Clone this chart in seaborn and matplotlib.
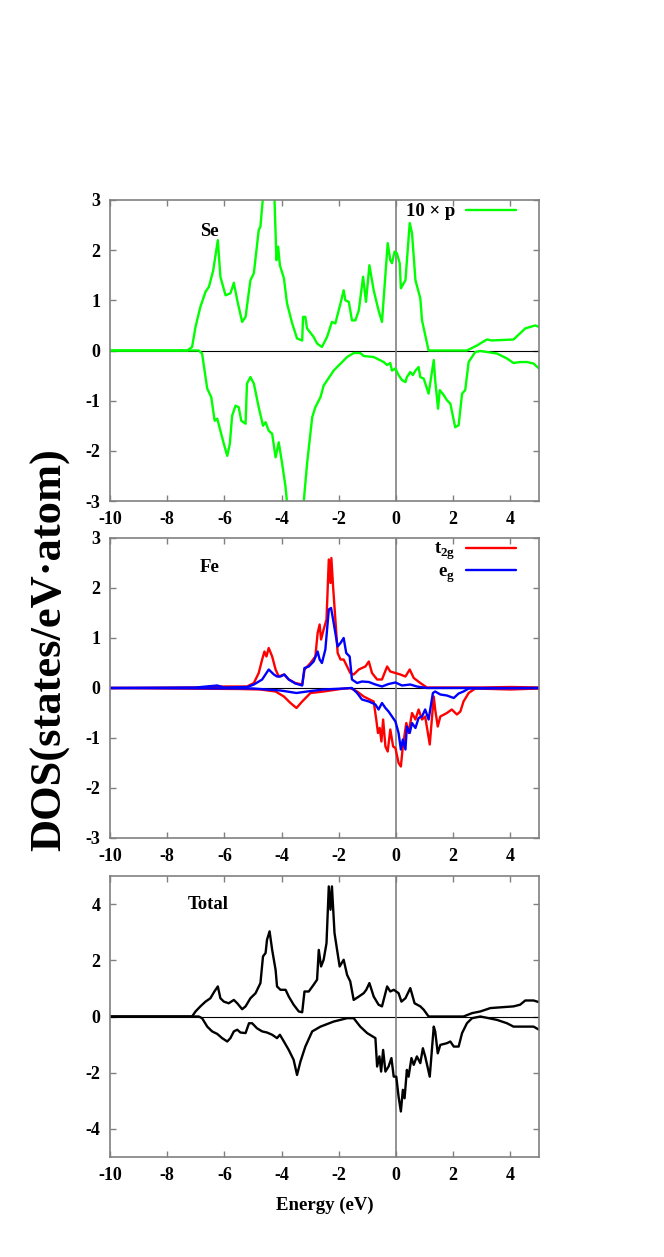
import matplotlib
matplotlib.use("Agg")

import matplotlib.pyplot as plt
import seaborn as sns

# ---- Se p (x10), spin up / spin down ----
se_up_e = [-10, -7.3, -7.13, -7.01, -6.84, -6.66, -6.54, -6.39, -6.23, -6.14, -5.96, -5.79, -5.73,
           -5.67, -5.55, -5.38, -5.26, -5.09, -4.97, -4.8, -4.74, -4.6, -4.45, -4.27, -4.18, -4.12,
           -4.06, -3.92, -3.81, -3.63, -3.46, -3.28, -3.25, -3.17, -3.11, -2.88, -2.76, -2.59, -2.41,
           -2.24, -2.12, -1.94, -1.83, -1.77, -1.65, -1.54, -1.42, -1.3, -1.15, -1.05, -0.93, -0.78,
           -0.61, -0.49, -0.29, -0.2, -0.14, -0.05, 0.03, 0.13, 0.17, 0.33, 0.48, 0.56, 0.68, 0.85,
           0.91, 1.14, 2.48, 2.83, 3.18, 3.35, 4.11, 4.52, 4.87, 5.0]
se_up = [0, 0, 0.07, 0.47, 0.87, 1.17, 1.27, 1.6, 2.2, 1.47, 1.1, 1.14, 1.24,
         1.35, 1.0, 0.57, 0.67, 1.4, 1.54, 2.4, 2.47, 3.4, 4.0, 3.4, 1.8, 2.07,
         1.7, 1.44, 0.94, 0.54, 0.24, 0.2, 0.67, 0.67, 0.44, 0.27, 0.14, 0.07, 0.27,
         0.57, 0.54, 0.94, 1.2, 1.0, 0.97, 0.6, 0.6, 0.8, 1.47, 0.97, 1.7, 1.2,
         0.8, 0.57, 2.14, 1.8, 1.74, 1.97, 1.94, 1.74, 1.24, 1.4, 2.54, 2.34, 1.4, 1.04,
         0.6, 0, 0, 0.1, 0.22, 0.2, 0.22, 0.44, 0.5, 0.47]

se_dn_e = [-10, -6.9, -6.78, -6.66, -6.6, -6.46, -6.34, -6.25, -6.14, -6.02, -5.9, -5.81, -5.73,
           -5.61, -5.5, -5.41, -5.26, -5.21, -5.09, -4.97, -4.8, -4.65, -4.56, -4.45, -4.33, -4.21,
           -4.1, -3.98, -3.86, -3.75, -3.5, -3.27, -3.11, -2.93, -2.82, -2.64, -2.53, -2.18, -1.71,
           -1.48, -1.25, -1.13, -0.78, -0.43, -0.31, -0.2, -0.14, -0.02, 0.09, 0.21, 0.33, 0.38,
           0.5, 0.59, 0.68, 0.79, 0.85, 0.97, 1.14, 1.32, 1.37, 1.47, 1.53, 1.67, 1.78, 1.9, 2.07,
           2.19, 2.31, 2.42, 2.54, 2.77, 2.95, 3.53, 3.88, 4.11, 4.34, 4.58, 4.81, 5.0]
se_dn = [0, 0, -0.06, -0.53, -0.76, -0.93, -1.4, -1.36, -1.6, -1.86, -2.1, -1.86, -1.3,
         -1.1, -1.13, -1.4, -1.46, -0.66, -0.53, -0.66, -1.13, -1.5, -1.43, -1.6, -1.66, -2.13,
         -1.83, -2.26, -2.73, -3.4, -4.0, -3.3, -2.26, -1.33, -1.13, -0.93, -0.7, -0.4, -0.13,
         -0.05, -0.05, -0.11, -0.13, -0.23, -0.29, -0.25, -0.4, -0.36, -0.49, -0.59, -0.63, -0.53,
         -0.43, -0.49, -0.4, -0.33, -0.53, -0.56, -0.86, -0.19, -0.59, -1.16, -0.79, -0.89, -0.99, -1.06, -1.53,
         -1.49, -0.86, -0.79, -0.23, -0.03, -0.01, -0.06, -0.16, -0.25, -0.23, -0.23, -0.26, -0.36]

# ---- Fe d: t2g ----
t2g_up_e = [-10, -7.0, -6.0, -5.21, -4.97, -4.8, -4.68, -4.6, -4.53, -4.45, -4.33, -4.21, -4.1,
            -3.92, -3.75, -3.52, -3.28, -3.2, -2.99, -2.82, -2.74, -2.67, -2.62, -2.53, -2.43, -2.35,
            -2.29, -2.26, -2.2, -2.12, -2.04, -1.94, -1.83, -1.71, -1.6, -1.48, -1.3, -1.19, -1.07,
            -0.95, -0.84, -0.66, -0.49, -0.31, -0.2, -0.02, 0.15, 0.33, 0.48, 0.62, 0.85, 1.08,
            3.0, 4.0, 5.0]
t2g_up = [0, 0.01, 0.03, 0.03, 0.1, 0.3, 0.57, 0.73, 0.63, 0.8, 0.63, 0.37, 0.23,
          0.27, 0.17, 0.1, 0.07, 0.37, 0.5, 0.63, 1.1, 1.27, 0.97, 1.17, 1.37, 2.57,
          2.1, 2.6, 2.03, 1.37, 0.7, 0.57, 0.57, 0.43, 0.3, 0.27, 0.37, 0.4, 0.43,
          0.53, 0.3, 0.17, 0.17, 0.43, 0.33, 0.3, 0.27, 0.23, 0.37, 0.2, 0.1, 0.01,
          0.01, 0.02, 0.01]
t2g_dn_e = [-10, -5.5, -4.74, -4.21, -3.92, -3.69, -3.48, -3.28, -2.99, -2.53, -1.94, -1.6, -1.36,
            -1.13, -0.78, -0.69, -0.63, -0.57, -0.51, -0.45, -0.37, -0.29, -0.2, -0.1, -0.02, 0.09,
            0.17, 0.24, 0.36, 0.44, 0.56, 0.68, 0.79, 0.91, 1.02, 1.18, 1.32, 1.37, 1.46, 1.55,
            1.78, 1.95, 2.13, 2.25, 2.36, 2.54, 2.77, 4.0, 5.0]
t2g_dn = [0, -0.02, -0.03, -0.07, -0.17, -0.3, -0.4, -0.27, -0.1, -0.07, -0.02, 0, -0.07,
          -0.17, -0.27, -0.63, -0.9, -0.8, -1.07, -0.63, -1.17, -1.27, -0.83, -1.17, -1.2, -1.5,
          -1.57, -1.17, -0.7, -0.9, -0.5, -0.63, -0.43, -0.63, -0.57, -1.13, -0.17, -0.43, -0.77, -0.57,
          -0.5, -0.43, -0.53, -0.47, -0.27, -0.1, -0.01, -0.03, -0.01]

# ---- Fe d: eg ----
eg_up_e = [-10, -7.0, -6.25, -6.02, -5.2, -4.97, -4.68, -4.45, -4.27, -4.16, -4.04, -3.9, -3.75,
           -3.52, -3.28, -3.2, -3.05, -2.88, -2.74, -2.67, -2.59, -2.47, -2.35, -2.27, -2.2, -2.12,
           -2.04, -1.94, -1.83, -1.74, -1.62, -1.54, -1.36, -1.19, -0.95, -0.72, -0.49, -0.26, -0.02,
           0.21, 0.5, 0.73, 1.08, 5.0]
eg_up = [0, 0.01, 0.05, 0.01, 0.02, 0.07, 0.17, 0.37, 0.27, 0.23, 0.23, 0.27, 0.17,
         0.09, 0.05, 0.4, 0.43, 0.53, 0.73, 0.57, 0.5, 0.77, 1.57, 1.6, 1.37, 1.1,
         0.83, 0.9, 1.0, 0.7, 0.63, 0.17, 0.1, 0.13, 0.12, 0.07, 0.03, 0.08, 0.11,
         0.05, 0.07, 0.03, 0, 0]
eg_dn_e = [-10, -5.0, -4.04, -3.81, -3.48, -3.11, -2.53, -1.83, -1.54, -1.36, -1.19, -0.95, -0.72,
           -0.61, -0.49, -0.37, -0.26, -0.14, -0.02, 0.09, 0.17, 0.24, 0.33, 0.38, 0.48, 0.56,
           0.68, 0.79, 0.91, 1.02, 1.14, 1.29, 1.37, 1.55, 1.78, 2.02, 2.19, 2.36, 2.54, 5.0]
eg_dn = [0, -0.01, -0.05, -0.07, -0.1, -0.07, -0.03, -0.01, 0, -0.1, -0.23, -0.27, -0.33,
         -0.43, -0.3, -0.4, -0.47, -0.57, -0.67, -0.9, -1.23, -1.03, -1.23, -0.77, -0.9, -0.7,
         -0.8, -0.6, -0.57, -0.43, -0.63, -0.1, -0.07, -0.13, -0.15, -0.2, -0.11, -0.07, -0.01, 0]

# ---- Total ----
tot_up_e = [-10, -7.13, -7.01, -6.84, -6.66, -6.49, -6.35, -6.23, -6.14, -6.02, -5.85, -5.67, -5.55,
            -5.38, -5.26, -5.09, -4.91, -4.74, -4.65, -4.56, -4.51, -4.42, -4.33, -4.21, -4.16, -4.04,
            -3.86, -3.75, -3.58, -3.4, -3.28, -3.2, -3.05, -2.88, -2.76, -2.7, -2.62, -2.53, -2.43,
            -2.35, -2.29, -2.24, -2.15, -2.06, -1.97, -1.83, -1.71, -1.6, -1.48, -1.3, -1.13, -1.04,
            -0.93, -0.78, -0.61, -0.49, -0.31, -0.2, -0.08, 0.09, 0.19, 0.33, 0.5, 0.65, 0.85, 0.97,
            1.14, 2.36, 2.66, 2.95, 3.3, 4.11, 4.34, 4.52, 4.81, 5.0]
tot_up = [0, 0, 0.18, 0.36, 0.53, 0.65, 0.89, 1.07, 0.65, 0.53, 0.47, 0.59, 0.47,
          0.26, 0.36, 0.65, 0.83, 1.19, 2.14, 2.26, 2.73, 3.03, 2.37, 1.66, 1.07, 0.95,
          0.95, 0.71, 0.42, 0.18, 0.15, 0.89, 0.89, 1.13, 1.31, 2.37, 1.78, 2.02, 2.61,
          4.63, 3.8, 4.63, 2.97, 2.37, 1.78, 2.02, 1.48, 1.25, 0.59, 0.71, 0.83, 0.95,
          1.19, 0.71, 0.42, 0.36, 1.07, 0.89, 0.95, 0.83, 0.53, 0.65, 1.01, 0.47, 0.36, 0.24,
          0, 0, 0.12, 0.18, 0.3, 0.36, 0.42, 0.57, 0.57, 0.51]
tot_dn_e = [-10, -6.9, -6.78, -6.6, -6.43, -6.25, -6.08, -5.9, -5.79, -5.67, -5.55, -5.44, -5.26,
            -5.14, -5.03, -4.86, -4.68, -4.51, -4.33, -4.16, -4.06, -3.92, -3.75, -3.58, -3.46, -3.34,
            -3.17, -2.93, -2.64, -2.18, -1.71, -1.48, -1.25, -1.01, -0.72, -0.66, -0.58, -0.52, -0.45,
            -0.37, -0.26, -0.16, -0.08, 0.01, 0.09, 0.17, 0.24, 0.3, 0.38, 0.44, 0.54, 0.62, 0.73,
            0.85, 0.94, 1.02, 1.18, 1.32, 1.37, 1.46, 1.55, 1.78, 1.9, 2.02, 2.19, 2.31, 2.48, 2.66,
            2.95, 3.53, 3.88, 4.11, 4.46, 4.81, 5.0]
tot_dn = [0, 0, -0.06, -0.36, -0.53, -0.62, -0.77, -0.89, -0.77, -0.53, -0.47, -0.57, -0.59,
          -0.24, -0.24, -0.42, -0.53, -0.57, -0.65, -0.77, -0.65, -0.89, -1.19, -1.54, -2.08, -1.6,
          -1.07, -0.53, -0.36, -0.18, -0.06, -0.06, -0.36, -0.59, -0.77, -1.78, -1.42, -1.96, -1.19,
          -1.96, -1.78, -1.48, -2.14, -2.14, -2.85, -3.38, -2.61, -2.91, -1.9, -2.14, -1.48, -1.72, -1.42,
          -1.66, -1.13, -1.42, -2.14, -0.36, -0.53, -1.31, -1.01, -0.95, -0.89, -1.07, -1.07, -0.59, -0.24, -0.06,
          0, -0.12, -0.24, -0.36, -0.36, -0.36, -0.47]

x_ticks = [-10, -8, -6, -4, -2, 0, 2, 4]

sns.set_theme(style="ticks")
plt.rcParams["font.family"] = ["Liberation Serif", "DejaVu Serif"]
plt.rcParams["font.weight"] = "bold"
plt.rcParams["text.color"] = "black"
plt.rcParams["axes.unicode_minus"] = False
plt.rcParams["mathtext.fontset"] = "custom"
plt.rcParams["mathtext.bf"] = "Liberation Serif:bold"
plt.rcParams["mathtext.rm"] = "Liberation Serif:bold"

W, H = 664, 1257
fig = plt.figure(figsize=(W / 100, H / 100), dpi=100)

def make_axes(top, bottom):
    return fig.add_axes([110 / W, 1 - bottom / H, 429 / W, (bottom - top) / H])

ax1 = make_axes(200, 501)
ax2 = make_axes(538, 838)
ax3 = make_axes(876, 1157)

lw = 1.7
sns.lineplot(x=se_up_e, y=se_up, ax=ax1, color="#00ff00", lw=lw, sort=False)
sns.lineplot(x=se_dn_e, y=se_dn, ax=ax1, color="#00ff00", lw=lw, sort=False)

sns.lineplot(x=t2g_up_e, y=t2g_up, ax=ax2, color="#ff0000", lw=lw, sort=False)
sns.lineplot(x=t2g_dn_e, y=t2g_dn, ax=ax2, color="#ff0000", lw=lw, sort=False)
sns.lineplot(x=eg_up_e, y=eg_up, ax=ax2, color="#0000ff", lw=lw, sort=False)
sns.lineplot(x=eg_dn_e, y=eg_dn, ax=ax2, color="#0000ff", lw=lw, sort=False)

sns.lineplot(x=tot_up_e, y=tot_up, ax=ax3, color="black", lw=lw, sort=False)
sns.lineplot(x=tot_dn_e, y=tot_dn, ax=ax3, color="black", lw=lw, sort=False)

panels = [(ax1, (-3, 3), [-3, -2, -1, 0, 1, 2, 3], "Se", 0.21, 0.894),
          (ax2, (-3, 3), [-3, -2, -1, 0, 1, 2, 3], "Fe", 0.21, 0.90),
          (ax3, (-5, 5), [-4, -2, 0, 2, 4], "Total", 0.182, 0.897)]

for ax, ylim, yt, name, tx, ty in panels:
    ax.set_xlim(-10, 5)
    ax.set_ylim(*ylim)
    ax.set_xticks(x_ticks)
    ax.set_yticks(yt)
    ax.set_xlabel("")
    ax.set_ylabel("")
    ax.axhline(0, color="black", lw=0.8, zorder=1)
    ax.axvline(0, color="#808080", lw=1.2, zorder=1)
    for sp in ax.spines.values():
        sp.set_visible(True)
        sp.set_color("#808080")
        sp.set_linewidth(1.2)
    ax.tick_params(direction="in", top=True, right=True, length=4, width=1,
                   color="#808080", labelsize=13, pad=7, labelcolor="black")
    for lab in ax.get_xticklabels() + ax.get_yticklabels():
        lab.set_fontweight("bold")
    ax.text(tx, ty, name, transform=ax.transAxes, fontsize=13.5, fontweight="bold",
            color="black", ha="left", va="center")

leg_kw = dict(loc="upper right", bbox_to_anchor=((516 - 110) / 429, 0.99), frameon=False,
              markerfirst=False, borderpad=0, borderaxespad=0, handlelength=2.65,
              handletextpad=0.6, prop={"size": 13.5, "weight": "bold"})
ax1.legend(handles=ax1.get_lines()[:1], labels=["10 × p"], **leg_kw)
lines2 = ax2.get_lines()
ax2.legend(handles=[lines2[0], lines2[2]], labels=[r"t$_{\mathbf{2g}}$", r"e$_{\mathbf{g}}$"],
           labelspacing=0.05, **leg_kw)

fig.text(50 / W, 1 - 650 / H, "DOS(states/eV·atom)", rotation=90, fontsize=32,
         fontweight="bold", ha="center", va="center")
fig.text(325 / W, 1 - 1205 / H, "Energy (eV)", fontsize=13.5, fontweight="bold",
         ha="center", va="center")

fig.savefig("out.png", dpi=100)
